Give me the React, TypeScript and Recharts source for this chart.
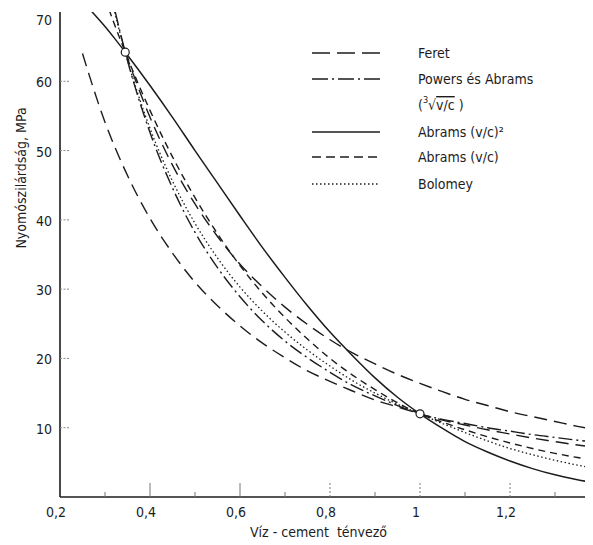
import { ComposedChart, Line, XAxis, YAxis, ReferenceDot } from "recharts";

// víz-cement tényező (x)
const wc = [0.25, 0.3, 0.32, 0.345, 0.4, 0.45, 0.5, 0.55, 0.6, 0.65, 0.7, 0.75, 0.8, 0.85, 0.9, 0.95, 1.0, 1.05, 1.1, 1.15, 1.2, 1.25, 1.3, 1.35, 1.4];

// nyomószilárdság, MPa
const feretUpper = [null, null, null, 64.2, 54.8, 47.9, 42.3, 37.6, 33.6, 30.3, 27.4, 24.9, 22.7, 20.8, 19.2, 17.7, 16.4, 15.2, 14.1, 13.2, 12.3, 11.6, 10.9, 10.2, 9.6];
const feretLower = [64.0, 54.1, 50.8, 47.1, 40.2, 35.2, 31.0, 27.6, 24.7, 22.2, 20.1, 18.2, 16.7, 15.3, 14.0, 13.0, 12.0, 11.1, 10.4, 9.7, 9.1, 8.5, 8.0, 7.5, 7.1];
const powers = [null, 76.8, 70.8, 64.2, 52.6, 44.6, 38.2, 33.1, 28.9, 25.4, 22.5, 20.1, 18.0, 16.1, 14.6, 13.2, 12.0, 11.2, 10.6, 10.0, 9.5, 9.0, 8.6, 8.2, 7.9];
const abramsSq = [71.5, 67.9, 66.3, 64.2, 59.4, 54.8, 50.0, 45.3, 40.6, 36.0, 31.7, 27.6, 23.8, 20.4, 17.2, 14.4, 12.0, 9.9, 8.0, 6.5, 5.2, 4.1, 3.2, 2.5, 1.9];
const abramsLin = [null, 72.0, 68.4, 64.2, 55.8, 49.1, 43.2, 38.0, 33.4, 29.4, 25.9, 22.8, 20.0, 17.6, 15.5, 13.6, 12.0, 10.8, 9.7, 8.7, 7.8, 7.0, 6.3, 5.7, 5.2];
const bolomey = [null, 76.2, 70.4, 64.2, 53.2, 45.6, 39.5, 34.5, 30.3, 26.8, 23.8, 21.2, 18.9, 16.8, 15.0, 13.4, 12.0, 10.6, 9.3, 8.1, 7.0, 6.1, 5.3, 4.6, 4.0];

// közös pontok (körök)
const anchorX = [0.345, 1.0];
const anchorY = [64.2, 12.0];

const majorTicks = [0.2, 0.4, 0.6, 0.8, 1, 1.2, 1.4];
const minorTicks = [0.3, 0.5, 0.7, 0.9, 1.1, 1.3];
const yTicks = [10, 20, 30, 40, 50, 60, 70];

const rows = wc.map((x, i) => ({
  wc: x,
  feretUpper: feretUpper[i],
  feretLower: feretLower[i],
  powers: powers[i],
  abramsSq: abramsSq[i],
  abramsLin: abramsLin[i],
  bolomey: bolomey[i],
}));

const FONT = "'DejaVu Sans Condensed', 'Liberation Sans Narrow', 'DejaVu Sans', sans-serif";
const INK = "#1c1c1c";

const DASH = {
  feret: "13 7",
  powers: "14 4 2 4",
  abramsLin: "7 5",
  bolomey: "1.5 2.5",
};

const fmt = (v: number) => (Math.abs(v - 1) < 1e-6 ? "1" : v.toFixed(1).replace(".", ","));

const XTick = ({ x, y, payload }: any) => {
  const v = payload.value as number;
  const axisY = y - 8;
  const major = majorTicks.some((m) => Math.abs(m - v) < 1e-6);
  const len = major ? (v > 0.21 && v < 1.39 ? 14 : 0) : 5;
  return (
    <g>
      {len > 0 && (
        <line x1={x} x2={x} y1={axisY} y2={axisY - len} stroke="#777" strokeWidth={1} strokeDasharray={major && v > 0.7 ? "2 2" : undefined} />
      )}
      {major && (
        <text x={x - 4} y={axisY + 15} textAnchor="middle" dominantBaseline="central" fontFamily={FONT} fontSize={14} fill={INK}>
          {fmt(v)}
        </text>
      )}
    </g>
  );
};

const YTick = ({ x, y, payload }: any) => {
  const v = payload.value as number;
  const axisX = x + 8;
  return (
    <g>
      {v < 70 && <line x1={axisX} x2={axisX + 9} y1={y} y2={y} stroke="#888" strokeWidth={1} strokeDasharray="2 1.5" />}
      <text x={axisX - 8} y={v === 70 ? y + 8 : y + 1} textAnchor="end" dominantBaseline="central" fontFamily={FONT} fontSize={14} fill={INK}>
        {v}
      </text>
    </g>
  );
};

const legendItems = [
  { label: "Feret", dash: "18 7", y: 53 },
  { label: "Powers és Abrams", dash: "16 4 2 4", y: 79 },
  { label: "Abrams (v/c)²", dash: undefined, y: 132 },
  { label: "Abrams (v/c)", dash: "9 5", y: 157 },
  { label: "Bolomey", dash: "1.5 2.5", y: 184 },
];

function Overlay() {
  return (
    <svg width={593} height={545} style={{ position: "absolute", left: 0, top: 0, pointerEvents: "none" }}>
      {legendItems.map((it) => (
        <g key={it.label}>
          <line x1={312} x2={380} y1={it.y} y2={it.y} stroke={INK} strokeWidth={1.4} strokeDasharray={it.dash} />
          <text x={418} y={it.y} dominantBaseline="central" fontFamily={FONT} fontSize={14} fill={INK}>
            {it.label}
          </text>
        </g>
      ))}
      <text x={418} y={105} dominantBaseline="central" fontFamily={FONT} fontSize={14} fill={INK}>
        (<tspan fontSize={9} dy={-5}>3</tspan>
        <tspan dy={5}>√</tspan>
        <tspan style={{ textDecoration: "overline" }}>v/c</tspan> )
      </text>
      <text
        transform="translate(21,178) rotate(-90)"
        textAnchor="middle"
        dominantBaseline="central"
        fontFamily={FONT}
        fontSize={14}
        fill={INK}
      >
        Nyomószilárdság,  MPa
      </text>
      <text x={250} y={532} dominantBaseline="central" fontFamily={FONT} fontSize={14} fill={INK} style={{ whiteSpace: "pre" }}>
        Víz - cement  tényező
      </text>
    </svg>
  );
}

export default function App() {
  return (
    <div style={{ position: "relative", width: 593, height: 545, margin: -8, overflow: "hidden", background: "#fff" }}>
      <ComposedChart width={620} height={545} data={rows} margin={{ top: 12, right: 20, bottom: 18, left: 15 }}>
        <XAxis
          dataKey="wc"
          type="number"
          domain={[0.2, 1.4]}
          ticks={[...majorTicks, ...minorTicks].sort((a, b) => a - b)}
          interval={0}
          height={30}
          tickSize={0}
          tickMargin={8}
          tickLine={false}
          tick={<XTick />}
          axisLine={{ stroke: INK, strokeWidth: 1.6 }}
        />
        <XAxis xAxisId="top" orientation="top" type="number" domain={[0.2, 1.4]} height={0} tick={false} tickLine={false} axisLine={{ stroke: INK, strokeWidth: 1.6 }} />
        <YAxis
          type="number"
          domain={[0, 70]}
          ticks={yTicks}
          interval={0}
          allowDataOverflow
          width={45}
          tickSize={0}
          tickMargin={8}
          tickLine={false}
          tick={<YTick />}
          axisLine={{ stroke: INK, strokeWidth: 1.6 }}
        />
        <Line dataKey="feretUpper" type="monotone" stroke={INK} strokeWidth={1.4} strokeDasharray={DASH.feret} dot={false} isAnimationActive={false} />
        <Line dataKey="feretLower" type="monotone" stroke={INK} strokeWidth={1.4} strokeDasharray={DASH.feret} dot={false} isAnimationActive={false} />
        <Line dataKey="powers" type="monotone" stroke={INK} strokeWidth={1.4} strokeDasharray={DASH.powers} dot={false} isAnimationActive={false} />
        <Line dataKey="abramsLin" type="monotone" stroke={INK} strokeWidth={1.4} strokeDasharray={DASH.abramsLin} dot={false} isAnimationActive={false} />
        <Line dataKey="bolomey" type="monotone" stroke={INK} strokeWidth={1.3} strokeDasharray={DASH.bolomey} dot={false} isAnimationActive={false} />
        <Line dataKey="abramsSq" type="monotone" stroke={INK} strokeWidth={1.5} dot={false} isAnimationActive={false} />
        {anchorX.map((x, i) => (
          <ReferenceDot key={x} x={x} y={anchorY[i]} r={4} fill="#fff" stroke={INK} strokeWidth={1.2} />
        ))}
      </ComposedChart>
      <Overlay />
    </div>
  );
}
